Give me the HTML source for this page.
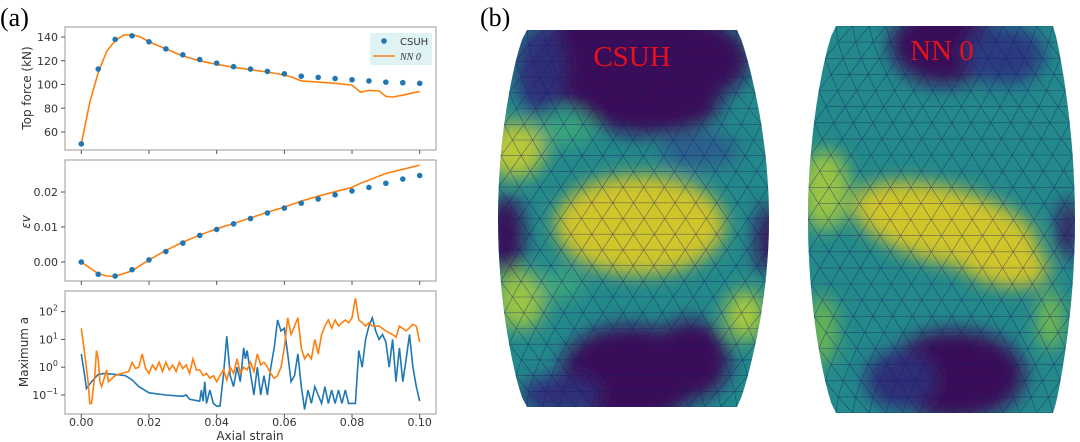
<!DOCTYPE html>
<html><head><meta charset="utf-8"><style>
body{margin:0;background:#fff;width:1080px;height:442px;overflow:hidden}
svg{display:block;font-family:"DejaVu Sans","Liberation Sans",sans-serif}
</style></head><body>
<svg id="fig" width="1080" height="442" viewBox="0 0 1080 442" xmlns="http://www.w3.org/2000/svg">
<defs>
<filter id="blur" x="-50%" y="-50%" width="200%" height="200%"><feGaussianBlur stdDeviation="9"/></filter>
<clipPath id="clipL"><path id="clipLpath"/></clipPath>
<clipPath id="clipR"><path id="clipRpath"/></clipPath>
</defs>
<text x="0" y="26" font-family="Liberation Serif,serif" font-size="26">(a)</text>
<text x="480" y="26" font-family="Liberation Serif,serif" font-size="26">(b)</text>
<g id="charts"></g>
<g id="meshes"></g>
</svg>
<script>
// ---- data ----
const xTicks=[0,0.02,0.04,0.06,0.08,0.10];
const xTickLabels=["0.00","0.02","0.04","0.06","0.08","0.10"];
const forceTicks=[60,80,100,120,140];
const csuhForce=[50,113,138,141,136,130,125,121,118,115,113,111,109,107,106,105,104,103,102,101.5,101];
const nnForceX=[0,.0025,.005,.0075,.01,.0125,.015,.0175,.02,.025,.03,.035,.04,.045,.05,.055,.06,.0625,.065,.07,.075,.08,.0815,.0825,.085,.088,.09,.092,.095,.098,.1];
const nnForce=[50,85,110,128,137,141.5,142,140,136,130,124,120,117,114.5,112.5,110.5,108,106,103,102,101,99.5,96,93.5,95,94.5,90,89.5,91,93,94];
const epsTicks=[0,0.01,0.02];
const epsTickLabels=["0.00","0.01","0.02"];
const csuhEps=[0,-0.0035,-0.004,-0.0022,0.0006,0.003,0.0054,0.0076,0.0093,0.0109,0.0124,0.014,0.0154,0.0168,0.018,0.0192,0.0203,0.0213,0.0225,0.0237,0.0247];
const nnEpsX=[0,.005,.0075,.01,.015,.02,.025,.03,.035,.04,.045,.05,.055,.06,.065,.07,.075,.08,.0825,.085,.09,.095,.1];
const nnEps=[0,-.0033,-.004,-.0041,-.0025,.0006,.0033,.0057,.0077,.0095,.011,.0126,.0142,.0157,.0174,.0188,.0201,.0213,.0225,.0234,.0253,.0265,.0277];
const blueAX=[0,.001,.0015,.003,.005,.007,.01,.013,.015,.017,.02,.025,.03,.031,.032,.035,.0355,.036,.0365,.037,.038,.039,.04,.041,.042,.043,.044,.045,.046,.047,.048,.0485,.049,.05,.051,.052,.053,.054,.055,.056,.057,.058,.059,.06,.061,.062,.063,.064,.065,.066,.067,.068,.069,.07,.071,.072,.073,.074,.075,.076,.077,.078,.079,.081,.082,.083,.084,.085,.086,.087,.088,.089,.09,.091,.092,.093,.094,.095,.096,.097,.098,.099,.1];
const blueA=[3,.5,.17,.3,.55,.6,.55,.5,.35,.2,.12,.1,.09,.1,.07,.06,.15,.06,.3,.05,.15,.05,.04,.04,.5,13,.5,.2,1,.3,5,2,4,.6,.1,1,.1,.5,.1,1,5,50,20,25,3,.3,.5,3,.2,.03,.15,.05,.2,.1,.05,.2,.05,.15,.05,.15,.05,.15,.05,.05,4,1,10,30,60,20,10,15,8,1,10,.3,5,.3,2,15,1,.2,.06];
const orangeAX=[0,.001,.002,.0025,.003,.004,.0045,.005,.0055,.006,.007,.0075,.008,.01,.012,.014,.015,.016,.017,.018,.019,.02,.021,.022,.023,.024,.025,.026,.027,.028,.029,.03,.031,.032,.033,.034,.035,.036,.037,.038,.039,.04,.041,.042,.043,.044,.045,.046,.047,.048,.049,.05,.051,.052,.053,.054,.055,.056,.057,.058,.059,.06,.061,.062,.063,.064,.065,.066,.067,.068,.069,.07,.071,.072,.073,.074,.075,.076,.077,.078,.079,.08,.081,.082,.083,.084,.085,.086,.088,.09,.092,.093,.094,.096,.098,.099,.1];
const orangeA=[25,3,.3,.05,.05,.5,4,2,.3,.2,.5,.8,.3,.5,.6,.7,1.5,.9,1,3,.9,.6,1.2,.8,1.5,.7,1.5,.8,1.2,.7,1.5,.9,1.2,.6,2,.8,.8,.5,.6,.4,.5,.3,.5,.8,.35,1,.6,2,.6,1,.8,1.5,.7,3,1.2,1.5,1,.6,.4,.5,1,5,60,15,30,60,5,2,3,2,10,3,15,30,50,25,50,30,40,50,40,60,300,50,40,30,40,30,30,20,15,12,30,20,35,30,8];
const logTicks=[-1,0,1,2];

const NS="http://www.w3.org/2000/svg";
const g=document.getElementById('charts');
function el(tag,attrs,parent){const e=document.createElementNS(NS,tag);for(const k in attrs)e.setAttribute(k,attrs[k]);(parent||g).appendChild(e);return e;}
const X0=81.3,X1=419.7;
const sx=v=>X0+(v-0)/(0.1)*(X1-X0);
const sF=v=>132+(60-v)*(95/80);
const sE=v=>262-v*3500;
const sL=v=>395-(Math.log10(v)+1)*27.8;
const blue="#1f77b4",orange="#ff7f0e";

function frame(name,y0,y1){
  const r=el('rect',{x:65,y:y0,width:371,height:y1-y0,fill:'none',stroke:'#999','stroke-width':1});
  
  
  xTicks.forEach(t=>{const l=el('line',{x1:sx(t),x2:sx(t),y1:y1,y2:y1+4,stroke:'#555'});
    
    });
}
function ytick(y,label,name,sup){
  const l=el('line',{x1:61,x2:65,y1:y,y2:y,stroke:'#555'});
  
  
  const t=el('text',{x:58,y:y+4,'text-anchor':'end','font-size':11,fill:'#333'});
  
  
  if(sup!==undefined){t.textContent='10';const s=el('tspan',{dy:-5,'font-size':8},t);s.textContent=sup;}
  else t.textContent=label;
}
function line(xs,ys,sy,color,name){
  const p=el('path',{d:xs.map((x,i)=>(i?'L':'M')+sx(x).toFixed(1)+','+sy(ys[i]).toFixed(1)).join(''),fill:'none',stroke:color,'stroke-width':1.6});
  
  
}
function dots(ys,sy,name){
  ys.forEach((v,i)=>{const c=el('circle',{cx:sx(i*0.005),cy:sy(v),r:2.8,fill:blue});
    
    });
}
function ylabel(txt,x,y,name){
  const t=el('text',{x:x,y:y,'text-anchor':'middle','font-size':12,fill:'#333',transform:`rotate(-90 ${x} ${y})`});
  
  
  t.textContent=txt;return t;
}
// top
frame('force-axes',27,150);
forceTicks.forEach(v=>ytick(sF(v),String(v),'force-tick-label'));
ylabel('Top force (kN)',31,88,'force-y-title');
line(nnForceX,nnForce,sF,orange,'nn-force-line');
dots(csuhForce,sF,'csuh-force-point');
const lg=el('rect',{x:370,y:33,width:62,height:32,fill:'#dff3f5'});


const lc=el('circle',{cx:384,cy:41,r:2.8,fill:blue});


const lt1=el('text',{x:400,y:45,'font-size':10,fill:'#333'});lt1.textContent='CSUH';


const ll=el('line',{x1:373,x2:395,y1:56,y2:56,stroke:orange,'stroke-width':1.6});


const lt2=el('text',{x:400,y:60,'font-size':10,fill:'#333','font-style':'italic','font-family':'Liberation Serif,serif'});lt2.textContent='NN 0';


// middle
frame('eps-axes',160,281);
epsTicks.forEach((v,i)=>ytick(sE(v),epsTickLabels[i],'eps-tick-label'));
const yl=ylabel('εv',30,222,'eps-y-title');yl.setAttribute('font-style','italic');
line(nnEpsX,nnEps,sE,orange,'nn-eps-line');
dots(csuhEps,sE,'csuh-eps-point');
// bottom
frame('maxa-axes',291,414);
logTicks.forEach(v=>ytick(sL(Math.pow(10,v)),'','maxa-tick-label',String(v).replace('-','−')));
ylabel('Maximum a',28,352,'maxa-y-title');
line(blueAX,blueA,sL,blue,'csuh-maxa-line');
line(orangeAX,orangeA,sL,orange,'nn-maxa-line');
xTicks.forEach((t,i)=>{const tx=el('text',{x:sx(t),y:426,'text-anchor':'middle','font-size':11,fill:'#333'});
  
  
  tx.textContent=xTickLabels[i];});
const xl=el('text',{x:250,y:440,'text-anchor':'middle','font-size':12,fill:'#333'});


xl.textContent='Axial strain';

// ---- meshes ----
const mg=document.getElementById('meshes');
function mesh(name,clipId,top,bot,l0,lb,r0,rb,blobs,label,lx,ly){
  const N=40;
  const L=v=>l0-lb*Math.pow(Math.sin(Math.PI*v),0.7);
  const R=v=>r0+rb*Math.pow(Math.sin(Math.PI*v),0.8);
  let d='';for(let i=0;i<=N;i++){const v=i/N;d+=(i?'L':'M')+L(v).toFixed(1)+','+(top+v*(bot-top)).toFixed(1);}
  for(let i=N;i>=0;i--){const v=i/N;d+='L'+R(v).toFixed(1)+','+(top+v*(bot-top)).toFixed(1);}
  d+='Z';
  document.getElementById(clipId+'path').setAttribute('d',d);
  const grp=el('g',{'clip-path':`url(#${clipId})`},mg);
  
  
  el('rect',{x:l0-lb-10,y:top-5,width:r0+rb-l0+lb+20,height:bot-top+10,fill:'#23898a'},grp);
  const bg=el('g',{filter:'url(#blur)'},grp);
  blobs.forEach(b=>el('ellipse',{cx:b[0],cy:b[1],rx:b[2],ry:b[3],fill:b[4],transform:`rotate(${b[5]||0} ${b[0]} ${b[1]})`},bg));
  const cols=13,rows=24;
  const P=(i,j)=>{const v=j/rows;const u=(i+(j%2?0.5:0))/cols;const l=L(v),r=R(v);return [l+u*(r-l),top+v*(bot-top)];};
  let md='';
  for(let j=0;j<=rows;j++){for(let i=0;i<cols;i++){const a=P(i,j),b=P(i+1,j);md+=`M${a[0].toFixed(1)},${a[1].toFixed(1)}L${b[0].toFixed(1)},${b[1].toFixed(1)}`;}}
  for(let j=0;j<rows;j++){for(let i=0;i<=cols;i++){const a=P(i,j);const b=P(i,j+1);const c=P(j%2?i+1:i-1,j+1);
    md+=`M${a[0].toFixed(1)},${a[1].toFixed(1)}L${b[0].toFixed(1)},${b[1].toFixed(1)}M${a[0].toFixed(1)},${a[1].toFixed(1)}L${c[0].toFixed(1)},${c[1].toFixed(1)}`;}}
  el('path',{d:md,stroke:'#14186a','stroke-width':0.6,'stroke-opacity':0.55,fill:'none'},grp);
  const t=el('text',{x:lx,y:ly,'text-anchor':'middle','font-family':'Liberation Serif,serif','font-size':29,fill:'#e8101a'},mg);
  
  
  t.textContent=label;
}
mesh('csuh-contour','clipL',30,407,527,29,737,32,[
 [635,60,115,55,'#3a0b58'],[650,105,70,30,'#3a0b58'],[540,70,25,45,'#2f2f78'],
 [515,150,30,28,'#b8c838'],[565,130,30,15,'#3aa67c'],
 [700,150,40,18,'#2a5f8c'],
 [506,235,18,40,'#3a0b58'],[768,240,12,35,'#3a0b58'],
 [640,225,85,50,'#d0c52c'],
 [520,300,25,30,'#9ac444'],[745,315,20,25,'#a8c93e'],[560,285,25,15,'#3aa67c'],
 [630,375,70,50,'#3a0b58'],[690,360,40,40,'#3a0b58'],[560,395,40,20,'#2f2f78']
],'CSUH',632,66);
mesh('nn0-contour','clipR',26,413,836,28,1053,22,[
 [945,45,55,40,'#3a0b58'],[1005,55,40,30,'#2a3a80'],
 [825,190,25,40,'#9ac444'],[1068,230,10,30,'#3a0b58'],
 [945,225,95,38,'#d0c52c',14],[1000,260,50,25,'#d0c52c',14],
 [822,330,15,35,'#6ab553'],[1050,320,12,30,'#7abd4e'],
 [955,375,70,45,'#3a0b58'],[900,380,35,30,'#2f2f78']
],'NN 0',942,60);
</script>
</body></html>
